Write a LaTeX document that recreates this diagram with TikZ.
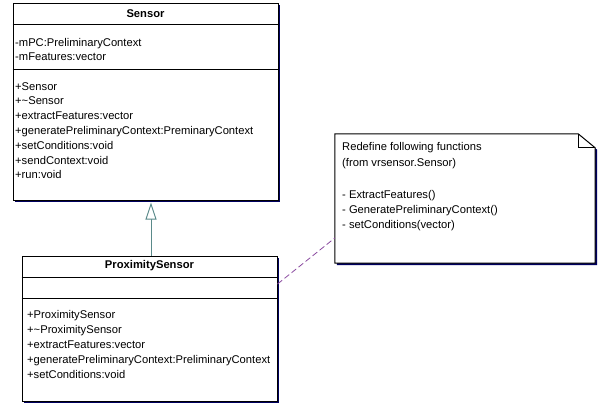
\documentclass[tikz,border=0pt]{standalone}
\usepackage{fontspec}
\setmainfont{Liberation Sans}
\usetikzlibrary{arrows.meta,shadows}
\definecolor{shadowc}{HTML}{000060}
\definecolor{inhc}{HTML}{5A8A8A}
\definecolor{notec}{HTML}{8A4AA0}
\begin{document}
\begin{tikzpicture}[x=1pt,y=-1pt,
  classbox/.style={draw=black, line width=1pt, fill=white, inner sep=0,
    drop shadow={shadow xshift=2pt, shadow yshift=-2pt, fill=shadowc, opacity=1}},
  sepline/.style={draw=black, line width=0.8pt},
  txt/.style={anchor=base west, inner sep=0, font=\fontsize{11.2}{13}\selectfont},
  ttl/.style={anchor=base, inner sep=0, font=\fontsize{11.2}{13}\selectfont\bfseries},
  inherit/.style={draw=inhc, line width=1pt, -{Triangle[open, length=17pt, width=11pt, fill=white]}},
  notelink/.style={draw=notec, line width=0.8pt, dash pattern=on 6pt off 3pt},
  noteshape/.style={draw=black, line width=1pt, fill=white,
    drop shadow={shadow xshift=2pt, shadow yshift=-2pt, fill=shadowc, opacity=1}}]
\useasboundingbox[fill=white] (0,0) rectangle (598,405);

% Sensor class
\node[classbox, minimum width=265pt, minimum height=197pt] (sensor) at (145.5,101.5) {};
\draw[sepline] (sensor.west |- 0,24) -- (sensor.east |- 0,24);
\draw[sepline] (sensor.west |- 0,69) -- (sensor.east |- 0,69);
\node[ttl] (sensorttl) at (145.5,17) {Sensor};
\node[txt] (sa1) at (15,46) {-mPC:PreliminaryContext};
\node[txt] (sa2) at (15,60.5) {-mFeatures:vector};
\node[txt] (so1) at (15,90) {+Sensor};
\node[txt] (so2) at (15,104.8) {+\textasciitilde Sensor};
\node[txt] (so3) at (15,119.6) {+extractFeatures:vector};
\node[txt] (so4) at (15,134.4) {+generatePreliminaryContext:PreminaryContext};
\node[txt] (so5) at (15,149.2) {+setConditions:void};
\node[txt] (so6) at (15,164) {+sendContext:void};
\node[txt] (so7) at (15,178.8) {+run:void};

% ProximitySensor class
\node[classbox, minimum width=255pt, minimum height=145pt] (prox) at (149.5,328.5) {};
\draw[sepline] (prox.west |- 0,277) -- (prox.east |- 0,277);
\draw[sepline] (prox.west |- 0,298) -- (prox.east |- 0,298);
\node[ttl] (proxttl) at (149.5,268) {ProximitySensor};
\node[txt] (po1) at (27,318) {+ProximitySensor};
\node[txt] (po2) at (27,333) {+\textasciitilde ProximitySensor};
\node[txt] (po3) at (27,348) {+extractFeatures:vector};
\node[txt] (po4) at (27,363) {+generatePreliminaryContext:PreliminaryContext};
\node[txt] (po5) at (27,378) {+setConditions:void};

% Note
\node[inner sep=0, minimum width=260pt, minimum height=129pt] (note) at (465,198.5) {};
\draw[noteshape] (note.north west) -- ([xshift=-17pt]note.north east) -- ([yshift=-14pt]note.north east) -- (note.south east) -- (note.south west) -- cycle;
\draw[line width=0.8pt] ([xshift=-17pt]note.north east) -- ([xshift=-17pt,yshift=-14pt]note.north east) -- ([yshift=-14pt]note.north east);
\node[txt] (n1) at (342,150) {Redefine following functions};
\node[txt] (n2) at (342,166) {(from vrsensor.Sensor)};
\node[txt] (n4) at (342,198) {- ExtractFeatures()};
\node[txt] (n5) at (342,213) {- GeneratePreliminaryContext()};
\node[txt] (n6) at (342,228) {- setConditions(vector)};

% Connectors
\draw[inherit] (prox.north -| 151,0) -- ([yshift=-2pt]sensor.south -| 151,0);
\draw[notelink] (prox.east |- 0,284) -- (note.west |- 0,238);
\end{tikzpicture}
\end{document}
